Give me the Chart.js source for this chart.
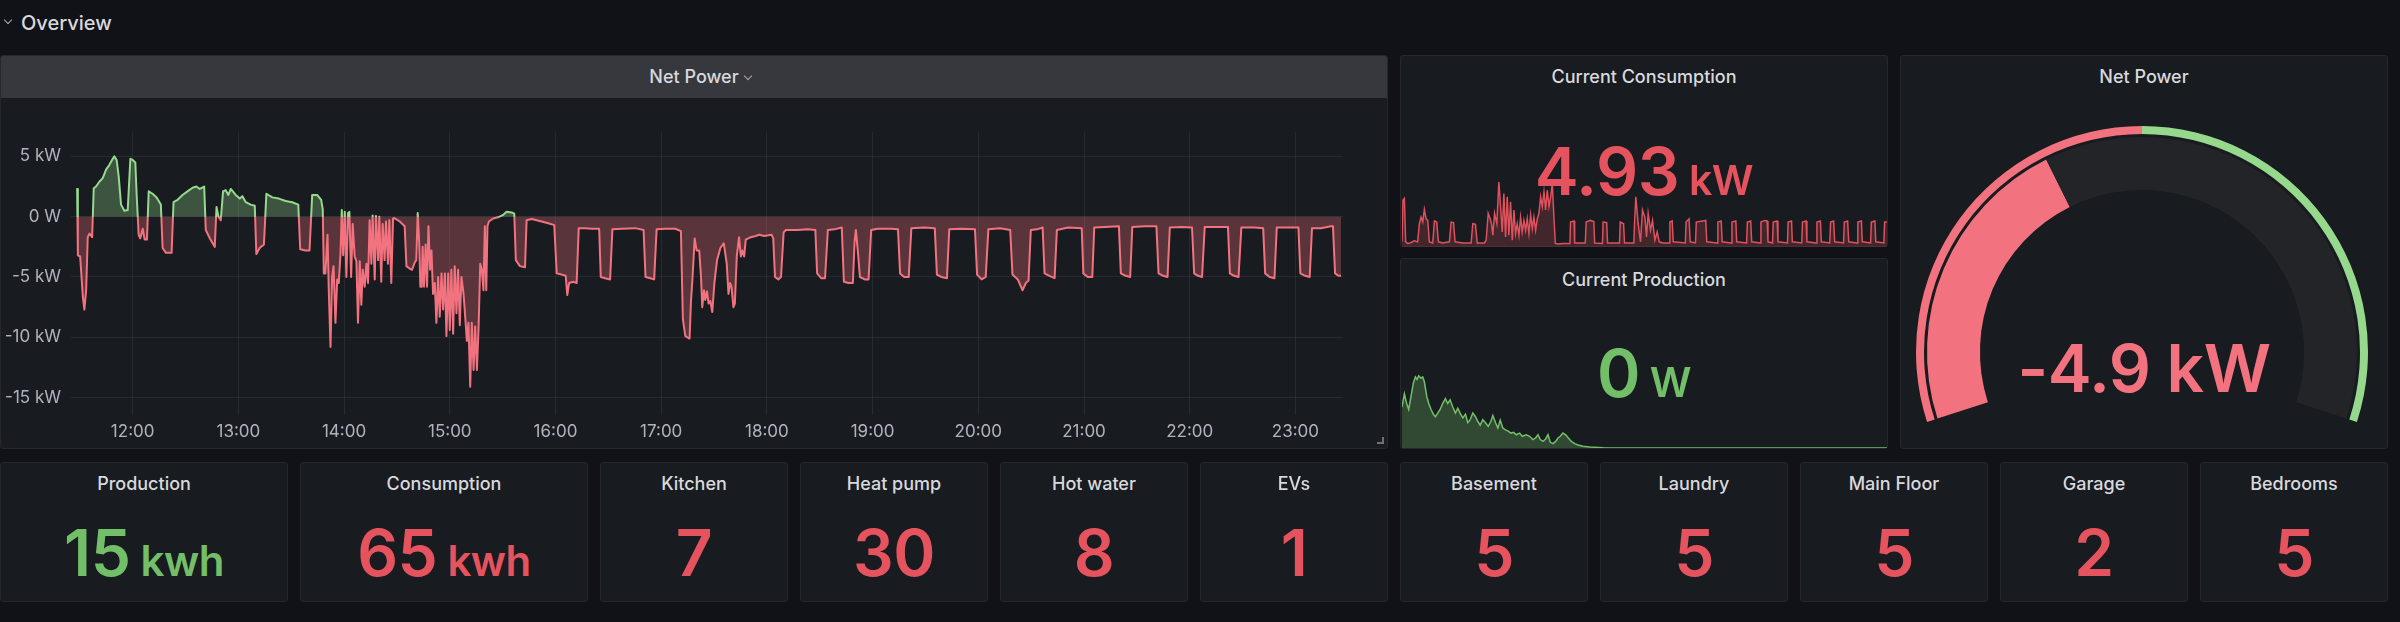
<!DOCTYPE html>
<html>
<head>
<meta charset="utf-8">
<title>Overview</title>
<script src="https://cdn.jsdelivr.net/npm/chart.js@4.4.1/dist/chart.umd.min.js"></script>
<style>
  html, body { margin: 0; padding: 0; }
  body { width: 2400px; height: 622px; background: #111217; position: relative; overflow: hidden;
         font-family: Inter, Roboto, "Noto Sans", sans-serif; color: #d8d9de; }
  .panel { position: absolute; background: #181b1f; border: 1px solid #25272c; border-radius: 3px; box-sizing: border-box; z-index: 0; }
  .hdr { position: absolute; left: 0; top: 0; right: 0; height: 42px; background: #37383d; border-radius: 2px 2px 0 0; }
  canvas { position: absolute; z-index: 1; }
  .txt { position: absolute; text-align: center; line-height: 0; white-space: nowrap; z-index: 2; font-weight: 500; }
  .val { font-weight: 600; letter-spacing: -0.5px; }
  .chev { position: absolute; width: 5px; height: 5px; border-right: 1.5px solid #a9aab2; border-bottom: 1.5px solid #a9aab2; transform: rotate(45deg); z-index: 2; }
  .grip { position: absolute; left: 1377px; top: 437px; width: 5px; height: 5px; border-right: 2px solid #6e6f77; border-bottom: 2px solid #6e6f77; z-index: 2; }
</style>
</head>
<body>
<canvas id="netChart" width="1388" height="352" style="left:0px;top:97px"></canvas>
<canvas id="consChart" width="485" height="87" style="left:1402px;top:160px"></canvas>
<canvas id="prodChart" width="485" height="118" style="left:1402px;top:330px"></canvas>
<canvas id="gaugeChart" width="486" height="320" style="left:1899px;top:114px"></canvas>
<div class="chev" style="left:5px;top:17px"></div>
<div class="chev" style="left:745px;top:73px"></div>
<div class="grip"></div>
<script>
/*** Net power, minutes since midnight / kW ***/
const netTime = [
  688.0, 688.5, 688.9, 690.2, 691.7, 692.6, 693.6, 694.5, 695.5, 697.0,
  697.9, 699.2, 701.1, 703.0, 704.9, 706.8, 708.7, 709.6, 710.9, 712.1,
  713.4, 715.3, 717.2, 718.7, 720.0, 721.5, 722.3, 723.4, 724.3, 725.7,
  726.8, 728.1, 729.1, 731.3, 733.6, 736.0, 737.0, 738.9, 742.1, 743.2,
  745.5, 748.3, 751.1, 754.0, 756.2, 758.1, 760.6, 761.5, 763.8, 766.6,
  767.6, 768.7, 770.0, 771.3, 772.8, 774.3, 775.7, 778.5, 780.8, 782.3,
  784.2, 787.0, 789.3, 790.2, 792.1, 794.5, 795.9, 799.3, 803.0, 806.8,
  810.6, 814.0, 815.1, 818.1, 820.4, 821.9, 824.7, 827.0, 827.9, 828.5,
  829.4, 830.6, 831.3, 832.3, 833.2, 834.0, 835.1, 836.1, 837.0, 838.0,
  838.7, 839.5, 840.4, 841.3, 842.3, 843.0, 844.0, 844.9, 846.0, 847.0,
  847.9, 848.9, 849.8, 850.6, 851.7, 852.7, 853.6, 854.5, 855.5, 856.2,
  857.4, 858.1, 859.3, 860.0, 861.1, 861.9, 863.0, 863.8, 864.9, 865.7,
  866.8, 867.8, 868.3, 871.6, 874.4, 875.4, 877.2, 878.6, 880.1, 881.0,
  881.8, 882.6, 883.3, 884.1, 884.6, 885.4, 886.3, 887.1, 887.9, 888.8,
  889.6, 890.5, 891.5, 892.4, 893.4, 894.3, 895.3, 896.2, 897.2, 898.1,
  899.1, 900.0, 900.9, 901.9, 902.8, 903.8, 904.7, 905.7, 906.6, 907.8,
  908.9, 909.7, 910.6, 911.6, 912.5, 913.5, 914.4, 915.4, 916.3, 917.3,
  918.2, 919.1, 919.9, 920.7, 921.4, 922.2, 924.6, 927.5, 930.3, 932.2,
  935.1, 936.6, 937.5, 939.8, 942.7, 943.6, 946.5, 952.1, 955.9, 959.3,
  960.7, 963.5, 965.8, 966.7, 967.7, 970.2, 972.0, 973.2, 976.8, 980.6,
  984.8, 985.7, 988.2, 991.0, 992.3, 997.6, 1005.2, 1010.0, 1011.1, 1013.8,
  1016.0, 1017.4, 1022.3, 1028.0, 1031.2, 1032.3, 1033.7, 1036.1, 1036.9, 1037.6,
  1039.0, 1040.1, 1041.6, 1042.6, 1043.3, 1044.3, 1045.0, 1046.0, 1046.9, 1047.9,
  1049.0, 1050.2, 1051.7, 1053.6, 1055.5, 1057.2, 1058.2, 1059.1, 1059.9, 1061.0,
  1061.8, 1062.9, 1064.2, 1065.2, 1066.1, 1067.1, 1068.0, 1070.9, 1073.7, 1075.6,
  1078.5, 1082.7, 1083.6, 1084.6, 1086.5, 1088.0, 1089.5, 1090.8, 1097.5, 1103.2,
  1107.5, 1108.5, 1110.8, 1113.0, 1114.6, 1118.4, 1122.5, 1123.7, 1126.3, 1128.8,
  1129.8, 1130.5, 1131.7, 1132.8, 1135.5, 1137.7, 1139.2, 1143.0, 1150.6, 1154.4,
  1155.6, 1157.9, 1160.5, 1162.0, 1169.6, 1175.3, 1176.5, 1179.1, 1182.2, 1183.5,
  1190.5, 1198.1, 1199.3, 1201.9, 1204.2, 1205.7, 1212.4, 1218.1, 1219.4, 1222.4,
  1225.1, 1227.0, 1228.5, 1229.8, 1233.3, 1236.5, 1237.6, 1240.3, 1243.3, 1244.6,
  1251.1, 1258.7, 1259.6, 1262.1, 1264.7, 1265.8, 1271.9, 1279.8, 1280.9, 1283.6,
  1286.2, 1287.4, 1294.5, 1301.1, 1302.3, 1304.9, 1307.4, 1308.7, 1315.3, 1321.3,
  1322.5, 1324.7, 1327.0, 1328.5, 1336.0, 1341.7, 1342.8, 1345.1, 1347.7, 1349.3,
  1356.8, 1361.7, 1362.8, 1365.3, 1368.1, 1369.4, 1375.7, 1381.7, 1382.8, 1385.5,
  1388.1, 1389.4, 1394.5, 1400.2, 1401.3, 1402.5, 1404.4, 1405.9
];
const netKw = [
  2.3, 2.3, -3.2, -3.3, -6.6, -7.7, -6.1, -1.7, -1.4, -1.7,
  2.35, 2.5, 2.9, 3.2, 3.9, 4.3, 4.8, 5.0, 4.7, 3.3,
  1.0, 0.5, 0.55, 4.8, 4.7, 4.5, 1.7, -1.5, -1.8, -1.0,
  -1.9, -1.9, 2.1, 1.9, 1.6, 1.0, -2.6, -3.0, -3.0, 1.2,
  1.4, 1.8, 2.1, 2.4, 2.5, 2.3, 2.5, -1.1, -1.8, -2.5,
  0.8, 0.0, -0.3, 2.1, 2.2, 1.8, 2.3, 1.8, 1.5, 1.7,
  1.2, 1.0, 0.9, -3.1, -2.6, -2.3, 1.9, 1.6, 1.5, 1.3,
  1.2, 1.0, -2.7, -2.8, -2.8, 1.8, 1.8, 1.4, 0.6, -4.7,
  -4.7, -1.5, -6.0, -10.8, -5.0, -4.1, -8.8, -5.2, -5.5, -3.0,
  0.55, -3.2, 0.4, -5.0, 0.3, 0.4, -5.0, -0.6, -3.3, -3.7,
  -8.8, -3.7, -7.3, -4.4, -5.8, -3.9, -5.5, -0.3, -3.9, 0.1,
  -5.2, 0.05, -3.6, 0.0, -5.4, -0.6, -3.6, -0.4, -3.9, -0.3,
  -5.5, -0.15, -0.1, -0.4, -0.8, -4.1, -4.3, -4.4, -3.8, -3.6,
  0.3, -2.0, -5.8, -5.8, -2.5, -5.8, -2.3, -5.8, -0.8, -4.4,
  -2.8, -6.4, -5.5, -8.8, -5.0, -8.3, -4.7, -7.7, -4.7, -9.9,
  -4.7, -9.4, -4.4, -9.7, -4.1, -8.0, -4.4, -9.0, -5.0, -6.4,
  -8.6, -10.3, -8.8, -14.1, -8.8, -12.7, -9.1, -12.7, -9.4, -3.9,
  -4.4, -6.1, -0.8, -6.1, -0.8, -0.4, -0.15, -0.05, 0.15, 0.4,
  0.35, 0.25, -3.6, -4.1, -4.2, -0.3, -0.2, -0.4, -0.55, -0.7,
  -4.7, -4.8, -4.9, -6.5, -5.5, -5.4, -5.5, -0.95, -0.95, -1.0,
  -1.0, -5.0, -5.1, -5.2, -1.05, -1.0, -0.95, -1.1, -5.0, -5.1,
  -5.2, -1.05, -1.0, -1.0, -1.2, -8.5, -9.9, -10.1, -7.0, -5.5,
  -1.8, -2.8, -2.8, -5.0, -7.5, -6.1, -6.9, -6.2, -7.2, -7.0,
  -7.9, -5.5, -3.6, -2.6, -2.2, -3.9, -6.4, -5.5, -5.8, -7.5,
  -7.2, -3.3, -1.7, -3.3, -2.8, -3.3, -1.9, -1.7, -1.6, -1.5,
  -1.6, -1.5, -1.8, -5.0, -5.2, -5.0, -1.3, -1.1, -1.1, -1.05,
  -1.1, -4.7, -5.1, -5.1, -1.1, -1.05, -0.9, -5.4, -5.5, -5.5,
  -2.0, -1.1, -3.0, -5.0, -5.2, -5.2, -1.1, -1.0, -1.0, -1.05,
  -4.7, -5.0, -5.0, -0.95, -0.9, -0.95, -4.8, -5.0, -5.1, -1.05,
  -1.0, -1.05, -4.8, -5.2, -5.0, -1.05, -0.95, -1.1, -4.8, -5.2,
  -6.1, -5.5, -5.3, -1.1, -1.05, -0.9, -4.7, -4.9, -5.1, -1.1,
  -0.9, -0.95, -4.7, -5.0, -5.0, -0.9, -0.85, -0.8, -4.7, -4.9,
  -5.0, -0.85, -0.8, -0.8, -4.7, -4.9, -5.0, -0.9, -0.85, -0.9,
  -4.7, -4.9, -5.0, -0.85, -0.85, -0.85, -4.7, -4.9, -5.0, -0.9,
  -0.9, -0.95, -4.7, -5.0, -5.1, -0.9, -0.9, -0.9, -4.7, -4.9,
  -5.0, -0.95, -0.95, -0.8, -0.8, -4.7, -4.9, -4.9
];

/*** Current consumption sparkline ***/
const consTime = [
  688.0, 689.5, 691.5, 693.4, 696.4, 699.9, 706.3, 711.2, 713.7, 716.2,
  718.7, 721.1, 723.6, 726.1, 728.5, 733.5, 736.0, 739.4, 741.9, 748.3,
  758.2, 760.7, 764.2, 766.6, 778.0, 790.4, 792.8, 796.8, 799.3, 810.1,
  812.6, 815.6, 818.5, 820.5, 822.5, 825.0, 828.4, 831.4, 833.9, 836.4,
  838.8, 841.3, 843.8, 846.2, 848.7, 851.2, 853.7, 856.1, 858.6, 861.1,
  863.5, 866.0, 868.5, 871.0, 873.4, 875.9, 878.4, 880.9, 883.3, 885.8,
  888.3, 890.7, 893.2, 895.7, 898.2, 900.6, 903.1, 905.6, 908.1, 910.5,
  913.0, 915.0, 918.9, 926.3, 936.6, 937.5, 942.7, 943.6, 959.3, 960.7,
  966.7, 972.0, 973.2, 984.8, 985.7, 991.0, 992.3, 1010.0, 1011.1, 1016.0,
  1017.4, 1031.2, 1032.3, 1034.2, 1037.6, 1041.1, 1044.0, 1047.5, 1050.0, 1052.4,
  1055.9, 1058.9, 1062.3, 1065.8, 1068.8, 1074.7, 1083.6, 1084.6, 1088.0, 1089.5,
  1107.5, 1108.5, 1113.0, 1114.6, 1122.5, 1123.7, 1137.7, 1139.2, 1154.4, 1155.6,
  1160.5, 1162.0, 1175.3, 1176.5, 1182.2, 1183.5, 1198.1, 1199.3, 1204.2, 1205.7,
  1218.1, 1219.4, 1225.1, 1228.5, 1229.8, 1236.5, 1237.6, 1243.3, 1244.6, 1258.7,
  1259.6, 1264.7, 1265.8, 1279.8, 1280.9, 1286.2, 1287.4, 1301.1, 1302.3, 1307.4,
  1308.7, 1321.3, 1322.5, 1327.0, 1328.5, 1341.7, 1342.8, 1347.7, 1349.3, 1361.7,
  1362.8, 1368.1, 1369.4, 1381.7, 1382.8, 1388.1, 1389.4, 1401.3, 1402.5, 1405.9
];
const consKw = [
  1.3, 8.9, 9.2, 1.3, 1.0, 1.1, 1.5, 1.3, 4.6, 5.8,
  4.9, 7.2, 5.5, 5.2, 1.3, 1.1, 5.1, 4.9, 1.3, 1.1,
  1.3, 4.9, 4.8, 1.3, 1.1, 1.1, 4.6, 4.5, 1.1, 1.1,
  1.6, 6.5, 5.5, 4.6, 2.5, 6.5, 4.6, 12.2, 7.7, 3.1,
  10.1, 2.2, 9.5, 2.5, 8.6, 1.6, 7.1, 2.8, 4.6, 2.5,
  5.8, 3.1, 5.2, 3.4, 5.5, 2.8, 6.2, 3.7, 5.8, 3.4,
  5.5, 6.5, 9.5, 7.7, 10.4, 7.1, 10.7, 7.7, 9.5, 11.9,
  5.5, 1.0, 0.9, 1.0, 1.0, 4.9, 5.1, 1.1, 1.1, 4.9,
  5.2, 5.0, 1.1, 1.0, 4.9, 4.8, 1.1, 1.1, 4.9, 4.6,
  1.1, 1.1, 4.9, 9.5, 4.6, 1.3, 7.1, 5.8, 2.2, 6.5,
  3.4, 5.2, 1.6, 3.1, 1.3, 1.1, 1.1, 4.9, 5.1, 1.3,
  1.1, 4.9, 5.5, 1.3, 1.1, 4.9, 5.2, 1.3, 1.1, 4.9,
  5.1, 1.3, 1.1, 4.9, 5.1, 1.3, 1.1, 4.9, 5.1, 1.3,
  1.1, 4.9, 5.2, 5.1, 1.3, 1.1, 4.9, 5.1, 1.3, 1.1,
  4.9, 5.1, 1.3, 1.1, 4.9, 5.1, 1.3, 1.1, 4.9, 5.1,
  1.3, 1.1, 4.9, 5.1, 1.3, 1.1, 4.9, 5.1, 1.3, 1.1,
  4.9, 5.1, 1.3, 1.1, 4.9, 5.1, 1.3, 1.1, 4.9, 4.93
];

/*** Current production sparkline ***/
const prodTime = [
  688.0, 691.5, 694.9, 697.9, 701.4, 704.8, 707.8, 710.3, 712.7, 716.2,
  718.7, 721.1, 724.6, 727.6, 731.0, 734.5, 737.5, 740.9, 744.4, 748.3,
  752.3, 755.7, 759.2, 763.2, 767.1, 770.6, 774.0, 778.0, 782.0, 785.4,
  788.9, 792.8, 796.8, 800.3, 803.7, 807.7, 811.6, 815.6, 819.5, 822.5,
  826.5, 829.9, 833.4, 837.3, 841.3, 845.3, 849.2, 853.2, 857.1, 862.1,
  866.0, 871.9, 876.9, 881.8, 885.8, 889.3, 892.7, 896.7, 900.6, 904.1,
  907.6, 911.5, 915.5, 919.0, 922.4, 926.3, 930.3, 934.3, 938.7, 943.7,
  948.6, 956.0, 965.9, 985.7, 1015.4, 1406.0
];
const prodKw = [
  3.4, 4.5, 3.7, 3.2, 4.3, 5.4, 5.9, 5.7, 6.0, 5.8,
  5.9, 5.5, 4.3, 3.7, 3.2, 2.8, 2.6, 2.9, 3.2, 3.7,
  4.1, 3.7, 4.0, 3.4, 2.9, 3.3, 2.9, 2.5, 2.8, 2.1,
  2.35, 2.9, 2.6, 2.2, 1.9, 2.35, 2.1, 1.8, 2.2, 2.7,
  2.1, 1.66, 2.3, 1.66, 1.5, 1.4, 1.24, 1.3, 1.1, 1.24,
  0.97, 1.1, 0.97, 0.7, 0.83, 1.1, 0.7, 0.55, 0.75, 1.1,
  0.47, 0.36, 0.55, 0.83, 0.97, 1.24, 1.1, 0.83, 0.55, 0.36,
  0.25, 0.14, 0.08, 0.03, 0, 0
];

/*** Axis ticks ***/
const hourTicks = [720, 780, 840, 900, 960, 1020, 1080, 1140, 1200, 1260, 1320, 1380];
const hourLabels = ['12:00', '13:00', '14:00', '15:00', '16:00', '17:00', '18:00', '19:00', '20:00', '21:00', '22:00', '23:00'];
const kwTicks = [-15, -10, -5, 0, 5];
const kwLabels = ['-15 kW', '-10 kW', '-5 kW', '0 W', '5 kW'];

/*** Gauge ***/
const gaugeMin = -20;
const gaugeMax = 20;
const netNow = -4.9;

/*** Stat panels ***/
const statNames = ['Production', 'Consumption', 'Kitchen', 'Heat pump', 'Hot water', 'EVs', 'Basement', 'Laundry', 'Main Floor', 'Garage', 'Bedrooms'];
const statValues = [15, 65, 7, 30, 8, 1, 5, 5, 5, 2, 5];
const statUnits = ['kwh', 'kwh', '', '', '', '', '', '', '', '', ''];
const statCols = [3, 3, 2, 2, 2, 2, 2, 2, 2, 2, 2];

/*** Colors ***/
const GREEN = '#73BF69';
const RED = '#E5535F';
const LINE_GREEN = '#96D98D';
const LINE_RED = '#F2737F';
const TICK = 'rgba(204,204,220,0.85)';
const GRID = 'rgba(204,204,220,0.09)';
const FONT = 'Inter, Roboto, "Noto Sans", sans-serif';
const MID = 0.3633;   // (ascent - descent) / 2 of Inter, used to set baselines

/*** Html helpers ***/
function panel(x, y, w, h) {
    const d = document.createElement('div');
    d.className = 'panel';
    Object.assign(d.style, {left: x + 'px', top: y + 'px', width: w + 'px', height: h + 'px'});
    document.body.appendChild(d);
    return d;
}
function text(parts, x, w, base, size, color, cls) {
    const d = document.createElement('div');
    d.className = 'txt' + (cls ? ' ' + cls : '');
    Object.assign(d.style, {left: x + 'px', width: w + 'px', top: (base - MID * size) + 'px', fontSize: size + 'px', color: color});
    parts.forEach(p => {
        const s = document.createElement('span');
        s.textContent = p[0];
        if (p[1]) s.style.fontSize = p[1] + 'px';
        d.appendChild(s);
    });
    document.body.appendChild(d);
    return d;
}

/*** Layout ***/
const main = panel(0, 55, 1388, 394);
const hdr = document.createElement('div');
hdr.className = 'hdr';
main.appendChild(hdr);
panel(1400, 55, 488, 192);
panel(1400, 258, 488, 191);
panel(1900, 55, 488, 394);

const ov = text([['Overview']], 21, 200, 30, 20, '#d8d9de');
ov.style.textAlign = 'left';
text([['Net Power']], 0, 1388, 83.3, 18, '#d8d9de');
text([['Current Consumption']], 1400, 488, 83.3, 18, '#d8d9de');
text([['Current Production']], 1400, 488, 286.7, 18, '#d8d9de');
text([['Net Power']], 1900, 488, 83.3, 18, '#d8d9de');
text([['4.93'], [' kW', 41]], 1400, 488, 195, 66, RED, 'val');
text([['0'], [' W', 41]], 1400, 488, 396.7, 66, GREEN, 'val');
text([[netNow.toFixed(1) + ' kW']], 1900, 488, 391.7, 66, LINE_RED, 'val');

let col = 0;
statNames.forEach((name, i) => {
    const x = col * 100;
    const w = statCols[i] * 100 - 12;
    col += statCols[i];
    panel(x, 462, w, 140);
    text([[name]], x, w, 490.7, 18, '#d8d9de');
    const parts = [[String(statValues[i])]];
    if (statUnits[i]) parts.push([' ' + statUnits[i], 42]);
    text(parts, x, w, 576, 64, i === 0 ? GREEN : RED, 'val');
});

/*** Net power line: green above 0, red below ***/
function netLineColor(context) {
    const chart = context.chart;
    const area = chart.chartArea;
    if (!area) return LINE_RED;
    const zeroY = chart.scales.y.getPixelForValue(0);
    const stop = Math.min(Math.max((zeroY - area.top) / (area.bottom - area.top), 0), 1);
    const g = chart.ctx.createLinearGradient(0, area.top, 0, area.bottom);
    g.addColorStop(0, LINE_GREEN);
    g.addColorStop(stop, LINE_GREEN);
    g.addColorStop(stop, LINE_RED);
    g.addColorStop(1, LINE_RED);
    return g;
}

Chart.defaults.font.family = FONT;

new Chart(document.getElementById('netChart'), {
    type: 'line',
    data: {
        datasets: [{
            data: netTime.map((t, i) => ({x: t, y: netKw[i]})),
            borderColor: netLineColor,
            borderWidth: 2,
            borderJoinStyle: 'round',
            pointRadius: 0,
            tension: 0,
            fill: {target: 'origin', above: 'rgba(150,217,141,0.3)', below: 'rgba(242,115,127,0.3)'}
        }]
    },
    options: {
        animation: false,
        responsive: false,
        events: [],
        layout: {padding: {top: 35, right: 45, bottom: 0, left: 0}},
        plugins: {legend: {display: false}, tooltip: {enabled: false}},
        scales: {
            x: {
                type: 'linear',
                min: 685,
                max: 1407,
                afterFit: s => { s.height = 34; },
                afterBuildTicks: s => { s.ticks = hourTicks.map(v => ({value: v})); },
                grid: {color: GRID, drawTicks: false},
                border: {display: false},
                ticks: {
                    color: TICK, font: {size: 17}, padding: 7, maxRotation: 0, autoSkip: false,
                    callback: (v, i) => hourLabels[i]
                }
            },
            y: {
                min: -16.44,
                max: 7.02,
                afterFit: s => { s.width = 71; },
                afterBuildTicks: s => { s.ticks = kwTicks.map(v => ({value: v})); },
                grid: {color: GRID, drawTicks: false},
                border: {display: false},
                ticks: {
                    color: TICK, font: {size: 17}, padding: 10,
                    callback: (v, i) => kwLabels[i]
                }
            }
        }
    }
});

/*** Sparklines ***/
function sparkline(id, times, values, yMin, yMax, line, fill) {
    return new Chart(document.getElementById(id), {
        type: 'line',
        data: {
            datasets: [{
                data: times.map((t, i) => ({x: t, y: values[i]})),
                borderColor: line,
                backgroundColor: fill,
                borderWidth: 1.5,
                pointRadius: 0,
                tension: 0,
                fill: 'start'
            }]
        },
        options: {
            animation: false,
            responsive: false,
            events: [],
            layout: {padding: 0},
            plugins: {legend: {display: false}, tooltip: {enabled: false}},
            scales: {
                x: {type: 'linear', display: false, min: 688, max: 1406},
                y: {display: false, min: yMin, max: yMax}
            }
        }
    });
}
sparkline('consChart', consTime, consKw, 0.36, 16.2, '#E0505D', 'rgba(229,83,95,0.2)');
sparkline('prodChart', prodTime, prodKw, 0, 9.8, GREEN, 'rgba(115,191,105,0.28)');

/*** Gauge ***/
new Chart(document.getElementById('gaugeChart'), {
    type: 'doughnut',
    data: {
        datasets: [
            {data: [0 - gaugeMin, gaugeMax - 0], backgroundColor: [LINE_RED, LINE_GREEN], borderWidth: 0, weight: 8},
            {data: [1], backgroundColor: ['rgba(0,0,0,0)'], borderWidth: 0, weight: 3},
            {data: [netNow - gaugeMin, gaugeMax - netNow], backgroundColor: [LINE_RED, '#222428'], borderWidth: 0, weight: 53}
        ]
    },
    options: {
        animation: false,
        responsive: false,
        events: [],
        rotation: -108,
        circumference: 216,
        radius: 226,
        cutout: '71.7%',
        hoverOffset: 0,
        layout: {padding: 0},
        elements: {arc: {borderWidth: 0, hoverBorderWidth: 0}},
        plugins: {legend: {display: false}, tooltip: {enabled: false}}
    }
});
</script>
</body>
</html>
